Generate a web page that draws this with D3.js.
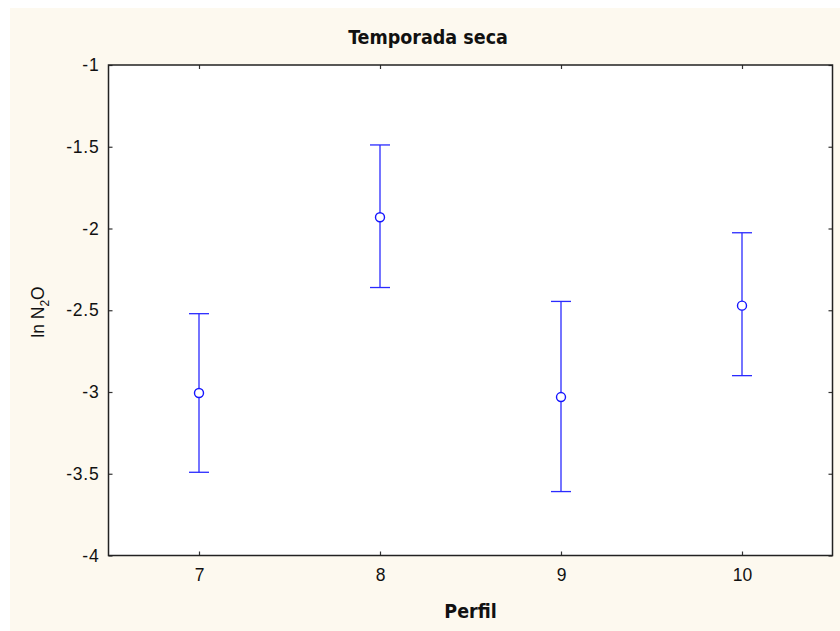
<!DOCTYPE html>
<html>
<head>
<meta charset="utf-8">
<script src="https://cdn.jsdelivr.net/npm/d3@7"></script>
<style>
  html, body { margin: 0; padding: 0; background: #ffffff; }
  svg { display: block; }
</style>
</head>
<body>
<svg id="chart"></svg>
<script>
// Data
var perfil = [7, 8, 9, 10];
var means  = [-3.006, -1.931, -3.031, -2.472];
var upper  = [-2.521, -1.489, -2.446, -2.026];
var lower  = [-3.491, -2.361, -3.609, -2.900];
var yTicks = [-1, -1.5, -2, -2.5, -3, -3.5, -4];

var width = 840, height = 631;
var margin = {top: 65, right: 7.5, bottom: 75, left: 108.5},
    innerWidth = width - margin.left - margin.right,
    innerHeight = height - margin.top - margin.bottom - 0.5;

var blue = "#2a2aff";

var svg = d3.select("#chart").attr("width", width).attr("height", height);

// Panel background
svg.append("rect")
  .attr("x", 10).attr("y", 8)
  .attr("width", width - 10).attr("height", height - 8)
  .attr("fill", "#fdf9ef");

// Title (centred on panel)
var boldFont = "'DejaVu Sans Condensed', 'DejaVu Sans', sans-serif";
svg.append("text")
  .attr("x", 428).attr("y", 44)
  .attr("text-anchor", "middle")
  .attr("font-family", boldFont)
  .attr("font-weight", "bold")
  .attr("font-size", 19.5)
  .attr("fill", "#111")
  .text("Temporada seca");

var g = svg.append("g")
  .attr("transform", "translate(" + margin.left + "," + margin.top + ")");

// Scales
var x = d3.scaleLinear().domain([6.5, 10.5]).range([0, innerWidth]);
var y = d3.scaleLinear().domain([-4, -1]).range([innerHeight, 0]);

// Plot area
g.append("rect")
  .attr("width", innerWidth).attr("height", innerHeight)
  .attr("fill", "#ffffff");

// Axes with inner ticks on all sides
var tickFont = "'Liberation Sans', Arial, sans-serif";
var xAxis = d3.axisBottom(x).tickValues(perfil).tickSize(-4).tickPadding(13).tickFormat(d => String(d));
var xTop  = d3.axisTop(x).tickValues(perfil).tickSize(-4);
var yAxis = d3.axisLeft(y).tickValues(yTicks).tickSize(-4).tickPadding(9).tickFormat(d => String(d));
var yRight = d3.axisRight(y).tickValues(yTicks).tickSize(-4);

function styleAxis(sel) {
  sel.select(".domain").remove();
  sel.selectAll(".tick line").attr("stroke", "#333").attr("stroke-width", 1.2);
  sel.selectAll(".tick text")
    .attr("font-family", tickFont)
    .attr("font-size", 17.5)
    .attr("fill", "#111");
}
// mirrored axes only carry tick marks
function ticksOnly(sel) {
  sel.select(".domain").remove();
  sel.selectAll(".tick text").remove();
  sel.selectAll(".tick line").attr("stroke", "#333").attr("stroke-width", 1.2);
}

g.append("g").attr("class", "x-axis")
  .attr("transform", "translate(0," + innerHeight + ")")
  .call(xAxis).call(styleAxis);
g.append("g").attr("class", "x-axis-top").call(xTop).call(ticksOnly);
g.append("g").attr("class", "y-axis").call(yAxis).call(styleAxis);
g.append("g").attr("class", "y-axis-right")
  .attr("transform", "translate(" + innerWidth + ",0)")
  .call(yRight).call(ticksOnly);

// slightly wider spacing on the value labels, as in the reference
g.select(".y-axis").selectAll(".tick text").attr("letter-spacing", 0.8);

// Frame
g.append("rect")
  .attr("width", innerWidth).attr("height", innerHeight)
  .attr("fill", "none")
  .attr("stroke", "#222")
  .attr("stroke-width", 1.5);

// Error bars
var rows = perfil.map((p, i) => ({p: p, m: means[i], hi: upper[i], lo: lower[i]}));
var cap = 10;

var bars = g.selectAll(".bar").data(rows).join("g").attr("class", "bar");
bars.append("line")
  .attr("x1", d => x(d.p)).attr("x2", d => x(d.p))
  .attr("y1", d => y(d.hi)).attr("y2", d => y(d.lo))
  .attr("stroke", blue).attr("stroke-width", 1.3);
bars.append("line")
  .attr("x1", d => x(d.p) - cap).attr("x2", d => x(d.p) + cap)
  .attr("y1", d => y(d.hi)).attr("y2", d => y(d.hi))
  .attr("stroke", blue).attr("stroke-width", 1.3);
bars.append("line")
  .attr("x1", d => x(d.p) - cap).attr("x2", d => x(d.p) + cap)
  .attr("y1", d => y(d.lo)).attr("y2", d => y(d.lo))
  .attr("stroke", blue).attr("stroke-width", 1.3);
bars.append("circle")
  .attr("cx", d => x(d.p)).attr("cy", d => y(d.m))
  .attr("r", 4.5)
  .attr("fill", "#ffffff")
  .attr("stroke", "#1515ff").attr("stroke-width", 1.4);

// Axis labels
g.append("text")
  .attr("x", innerWidth / 2).attr("y", innerHeight + 62)
  .attr("text-anchor", "middle")
  .attr("font-family", boldFont)
  .attr("font-weight", "bold")
  .attr("font-size", 19.5)
  .attr("fill", "#111")
  .text("Perfil");

var yl = svg.append("text")
  .attr("transform", "translate(44,312) rotate(-90)")
  .attr("text-anchor", "middle")
  .attr("font-family", tickFont)
  .attr("font-size", 17.5)
  .attr("fill", "#111");
yl.append("tspan").text("ln N");
yl.append("tspan").attr("font-size", 12).attr("dy", 5).text("2");
yl.append("tspan").attr("dy", -5).text("O");
</script>
</body>
</html>
